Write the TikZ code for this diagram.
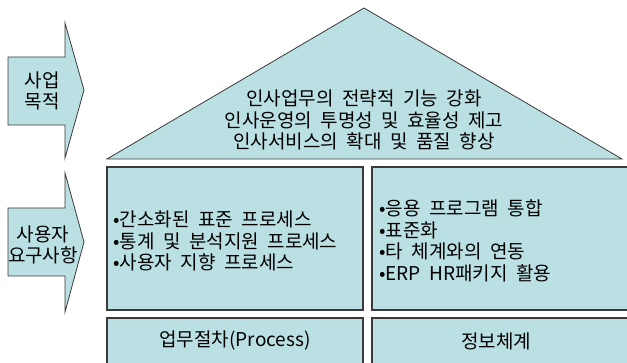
\documentclass[tikz,border=0pt]{standalone}
\usepackage{fontspec}
\setmainfont[WordSpace=2]{Noto Sans CJK KR}
\definecolor{fillc}{HTML}{BBE0E3}
\definecolor{edgec}{HTML}{3A3A3A}
\begin{document}
\begin{tikzpicture}[x=1pt,y=-1pt,
  figshape/.style={fill=fillc,draw=edgec,line width=0.8pt,line join=miter},
  boxc/.style={fill=fillc,draw=edgec,line width=1.6pt},
  txt/.style={font=\fontsize{19}{21.5}\selectfont,inner sep=0pt,text=black},
  lab/.style={txt,align=center}]
\useasboundingbox (0,0) rectangle (627,363);
\clip (0,0) rectangle (627,363);
% arrows
\draw[figshape] (8,57) -- (65,57) -- (65,23) -- (84,90) -- (65,158) -- (65,125) -- (8,125) -- cycle;
\draw[figshape] (8,208) -- (65,208) -- (65,173) -- (84,242) -- (65,312) -- (65,276) -- (8,276) -- cycle;
% roof
\draw[figshape] (107,159) -- (364,8) -- (622,159) -- cycle;
% boxes
\draw[boxc] (107,167) rectangle (363,310);
\draw[boxc] (372,167) rectangle (640,310);
\draw[boxc] (107,318) rectangle (363,380);
\draw[boxc] (372,318) rectangle (640,380);
% texts
\node[lab] (goal) at (42,91) {사업\\목적};
\node[lab] (req) at (43,245) {사용자\\요구사항};
\node[lab] (roof) at (364,120) {인사업무의 전략적 기능 강화\\인사운영의 투명성 및 효율성 제고\\인사서비스의 확대 및 품질 향상};
\node[txt,align=left,anchor=west] (proc) at (113,241) {•간소화된 표준 프로세스\\•통계 및 분석지원 프로세스\\•사용자 지향 프로세스};
\node[txt,align=left,anchor=west] (sys) at (379,241) {•응용 프로그램 통합\\•표준화\\•타 체계와의 연동\\•ERP HR패키지 활용};
\node[lab] (plabel) at (235,341) {업무절차(Process)};
\node[lab] (slabel) at (496,341) {정보체계};
\end{tikzpicture}
\end{document}
